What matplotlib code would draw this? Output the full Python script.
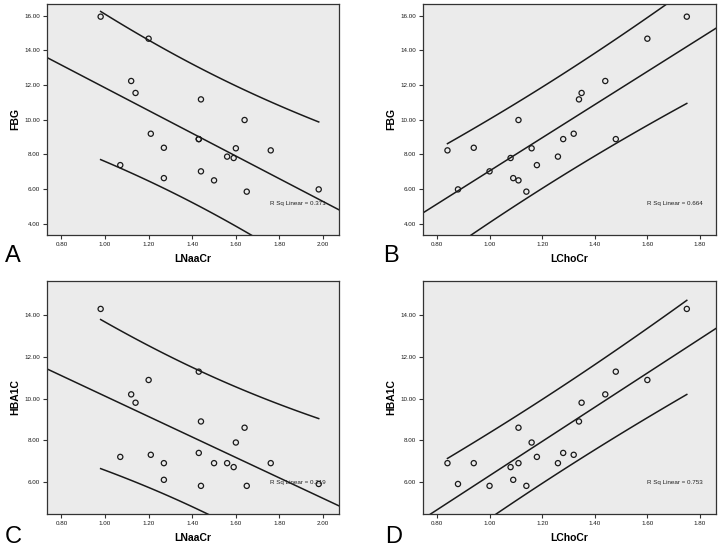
import numpy as np
import matplotlib.pyplot as plt

plt.rcParams['font.family'] = ['Liberation Sans', 'DejaVu Sans']

# datos por paciente
lnaacr = [0.98, 1.20, 1.12, 1.14, 1.44, 1.64, 1.21, 1.43, 1.43, 1.27,
          1.60, 1.76, 1.56, 1.59, 1.07, 1.44, 1.27, 1.50, 1.65, 1.98]
lchocr = [1.75, 1.60, 1.44, 1.35, 1.34, 1.11, 1.32, 1.28, 1.48, 0.94,
          1.16, 0.84, 1.26, 1.08, 1.18, 1.00, 1.09, 1.11, 1.14, 0.88]
fbg = [15.94, 14.67, 12.23, 11.54, 11.17, 9.98, 9.19, 8.88, 8.88, 8.38,
       8.35, 8.23, 7.87, 7.79, 7.38, 7.02, 6.63, 6.50, 5.85, 5.98]
hba1c = [14.30, 10.89, 10.20, 9.80, 8.90, 8.60, 7.30, 7.39, 11.29, 6.90,
         7.89, 6.90, 6.90, 6.71, 7.20, 5.81, 6.10, 6.90, 5.81, 5.90]

panel_letters = ["A", "B", "C", "D"]
r2_labels = ["R Sq Linear = 0.371", "R Sq Linear = 0.664",
             "R Sq Linear = 0.219", "R Sq Linear = 0.753"]
fbg_ticks = [4, 6, 8, 10, 12, 14, 16]
hba1c_ticks = [6, 8, 10, 12, 14]
naa_ticks = [0.8, 1.0, 1.2, 1.4, 1.6, 1.8, 2.0]
cho_ticks = [0.8, 1.0, 1.2, 1.4, 1.6, 1.8]

T_CRIT = 1.734  # t(0.95, 18) -> intervalo de prediccion 90%

panels = [
    (lnaacr, fbg, "LNaaCr", "FBG", (0.734, 2.073), (3.35, 16.67), naa_ticks, fbg_ticks),
    (lchocr, fbg, "LChoCr", "FBG", (0.747, 1.861), (3.35, 16.67), cho_ticks, fbg_ticks),
    (lnaacr, hba1c, "LNaaCr", "HBA1C", (0.734, 2.073), (4.46, 15.64), naa_ticks, hba1c_ticks),
    (lchocr, hba1c, "LChoCr", "HBA1C", (0.747, 1.861), (4.46, 15.64), cho_ticks, hba1c_ticks),
]

W, H = 720, 547
fig = plt.figure(figsize=(7.2, 5.47), dpi=100)
boxes = [(47, 4, 339, 235), (423, 4, 716, 235), (47, 281, 339, 514), (423, 281, 716, 514)]
letter_pos = [(5, 262), (383, 262), (5, 543), (385, 543)]

for i, (xs, ys, xl, yl, xlim, ylim, xt, yt) in enumerate(panels):
    x0, y0, x1, y1 = boxes[i]
    ax = fig.add_axes([x0 / W, 1 - y1 / H, (x1 - x0) / W, (y1 - y0) / H])
    ax.set_facecolor("#ebebeb")
    x = np.array(xs)
    y = np.array(ys)
    n = len(x)

    # regresion lineal e intervalo de prediccion individual
    b, a = np.polyfit(x, y, 1)
    resid = y - (a + b * x)
    s = np.sqrt(np.sum(resid ** 2) / (n - 2))
    sxx = np.sum((x - x.mean()) ** 2)

    xf = np.linspace(xlim[0], xlim[1], 50)
    ax.plot(xf, a + b * xf, color="#1a1a1a", lw=1.1)
    xp = np.linspace(x.min(), x.max(), 100)
    half = T_CRIT * s * np.sqrt(1 + 1 / n + (xp - x.mean()) ** 2 / sxx)
    ax.plot(xp, a + b * xp + half, color="#1a1a1a", lw=1.1)
    ax.plot(xp, a + b * xp - half, color="#1a1a1a", lw=1.1)

    ax.scatter(x, y, s=14, facecolors="none", edgecolors="#1a1a1a", linewidths=0.9, zorder=3)

    ax.set_xlim(xlim)
    ax.set_ylim(ylim)
    ax.set_xticks(xt)
    ax.set_yticks(yt)
    ax.set_xticklabels(["%.2f" % v for v in xt], fontsize=4.5, color="#1a1a1a")
    ax.set_yticklabels(["%.2f" % v for v in yt], fontsize=4.5, color="#1a1a1a")
    ax.tick_params(length=3, width=0.8, color="#333333", pad=2)
    for sp in ax.spines.values():
        sp.set_color("#333333")
        sp.set_linewidth(0.9)
    ax.set_xlabel(xl, fontsize=7.5, fontweight="bold", labelpad=5)
    ax.set_ylabel(yl, fontsize=7.5, fontweight="bold", labelpad=3)

    ax.text(0.955, 0.135, r2_labels[i], transform=ax.transAxes, ha="right",
            va="center", fontsize=4.5, color="#222222")

    lx, ly = letter_pos[i]
    fig.text(lx / W, 1 - ly / H, panel_letters[i], fontsize=17, ha="left", va="baseline")

fig.savefig("out.png", dpi=100)
